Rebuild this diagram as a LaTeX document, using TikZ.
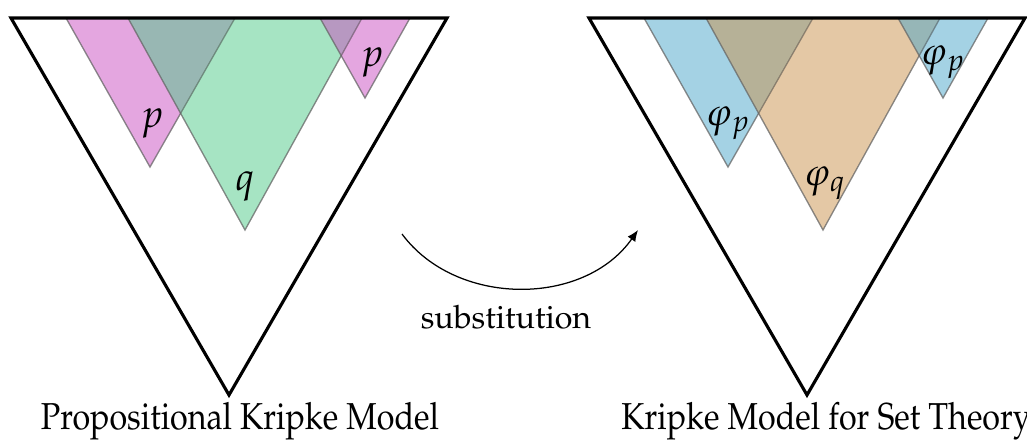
\documentclass[tikz,border=0pt]{standalone}
\usepackage[T1]{fontenc}
\usepackage{mathpazo}
\usepackage{graphicx}
\usetikzlibrary{arrows.meta}

\definecolor{pcol}{RGB}{201,77,193}
\definecolor{qcol}{RGB}{77,201,135}
\definecolor{phipcol}{RGB}{73,165,201}
\definecolor{phiqcol}{RGB}{201,145,75}

\newcommand{\modelname}[1]{\scalebox{0.86}[1]{#1}}

\tikzset{
  model/.style={line width=1pt, line join=miter},
  region/.style={fill=#1, fill opacity=0.5, draw=black!60, draw opacity=0.5, line width=0.4pt},
  prop label/.style={font=\fontsize{12.5pt}{14pt}\selectfont},
  model label/.style={font=\fontsize{12pt}{14pt}\selectfont, anchor=base}
}

\begin{document}
\begin{tikzpicture}[x=0.32pt,y=-0.32pt]
\useasboundingbox (0,0) rectangle (1027,439);

% Propositional Kripke Model
\fill[region=pcol] (66,18) -- (235,18) -- (150,167) -- cycle;
\fill[region=qcol] (128,18) -- (362,18) -- (245,230) -- cycle;
\fill[region=pcol] (320,18) -- (410,18) -- (365,98) -- cycle;
\draw[region=pcol,fill=none] (66,18) -- (150,167) -- (235,18);
\draw[region=pcol,fill=none] (320,18) -- (365,98) -- (410,18);
\draw[region=qcol,fill=none] (128,18) -- (245,230) -- (362,18);

\draw[model] (11,18) -- (447,18) -- (229,395) -- cycle;

\node[prop label] (p left) at (152,123) {$p$};
\node[prop label] (p right) at (372,62) {$p$};
\node[prop label] (q) at (245,186) {$q$};

\node[model label] (prop) at (240,429) {\modelname{Propositional Kripke Model}};

% Kripke Model for Set Theory
\begin{scope}[shift={(578,0)}]

\fill[region=phipcol] (66,18) -- (235,18) -- (150,167) -- cycle;
\fill[region=phiqcol] (128,18) -- (362,18) -- (245,230) -- cycle;
\fill[region=phipcol] (320,18) -- (410,18) -- (365,98) -- cycle;
\draw[region=phipcol,fill=none] (66,18) -- (150,167) -- (235,18);
\draw[region=phipcol,fill=none] (320,18) -- (365,98) -- (410,18);
\draw[region=phiqcol,fill=none] (128,18) -- (245,230) -- (362,18);

\draw[model] (11,18) -- (447,18) -- (229,395) -- cycle;

\node[prop label] (phip left) at (150,123) {$\varphi_p$};
\node[prop label] (phip right) at (365,62) {$\varphi_p$};
\node[prop label] (phiq) at (247,183) {$\varphi_q$};

\node[model label] (settheory) at (248,429) {\modelname{Kripke Model for Set Theory}};

\end{scope}

% substitution
\coordinate (from) at (402,234);
\coordinate (to) at (638,230);
\draw[-{Latex[length=3.6pt,width=3pt]}, line width=0.4pt] (from) .. controls (456,307) and (584,307) .. (to);
\node[font=\fontsize{10.3pt}{12pt}\selectfont] (subst) at (506,317) {substitution};

\end{tikzpicture}
\end{document}
